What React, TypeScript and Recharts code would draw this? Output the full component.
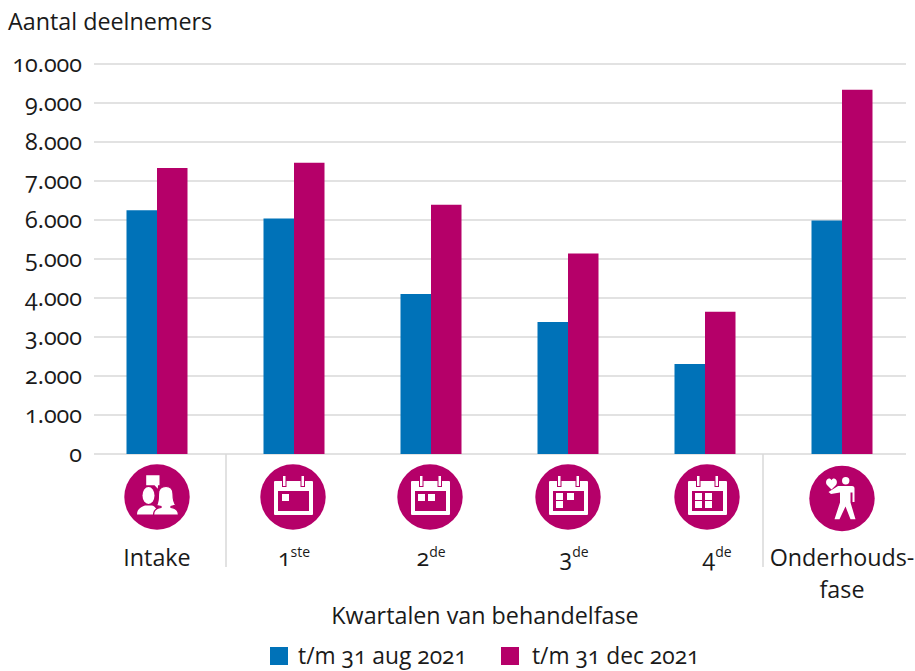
import { BarChart, Bar, XAxis, YAxis, CartesianGrid, Legend } from 'recharts';

const FONT = '"Open Sans", sans-serif';
const BLUE = '#0072b8';
const MAGENTA = '#b50069';
const TEXT = '#1a1a1a';
const FONT_SIZE = 23.3;

const categories = ['Intake', '1', '2', '3', '4', 'Onderhouds-'];
const superscripts = ['', 'ste', 'de', 'de', 'de', ''];
const aug2021 = [6250, 6040, 4100, 3385, 2310, 5990];
const dec2021 = [7335, 7470, 6390, 5140, 3650, 9340];
const yTicks = [0, 1000, 2000, 3000, 4000, 5000, 6000, 7000, 8000, 9000, 10000];
const seriesNames = ['t/m 31 aug 2021', 't/m 31 dec 2021'];

// the icons and labels are not quite centred under the bars in the original
const iconShift = [0, -1, -1, 0, 2, 0];
const labelShift = [0, 0, 0, 6, 12, 0];
const dividerShift = [69, 0, 0, 0, 58, 0];

const data = categories.map((category, i) => ({
  category,
  aug: aug2021[i],
  dec: dec2021[i],
}));

const Calendar = ({ cells }: { cells: number[][] }) => (
  <g>
    <rect x={-19} y={-16} width={39} height={34} fill="#fff" rx={1} />
    <rect x={-15} y={-6} width={31} height={20} fill={MAGENTA} />
    <rect x={-10.5} y={-21.5} width={3.5} height={11} fill="#fff" stroke={MAGENTA} strokeWidth={1} />
    <rect x={8} y={-21.5} width={3.5} height={11} fill="#fff" stroke={MAGENTA} strokeWidth={1} />
    {cells.map(([x, y], i) => (
      <rect key={i} x={x} y={y} width={7} height={7} fill="#fff" />
    ))}
  </g>
);

const People = () => (
  <g fill="#fff">
    <path d="M-10.8 -21.7H2.5V-11.7H1L0.8 -8.3L-2.5 -11.7H-10.8Z" />
    <ellipse cx={-8.5} cy={-1.5} rx={6} ry={8.5} />
    <path d="M-20 17.5C-20 12 -16 10 -12 8.5H-5C-2 9.5 0 11 0 17.5Z" />
    <path
      d="M9 -10.5C14 -10.5 16 -7 16 -3C16 2 17 6 19 8L14 9.5V10.5C18 11 21.5 13 21.5 18H-3.5C-3.5 13 0 11 4 10.5V9.5L-0.5 8.5C1.5 5 1.5 1 1.5 -3C1.5 -7 4 -10.5 9 -10.5Z"
      stroke={MAGENTA}
      strokeWidth={1.2}
    />
  </g>
);

const Walker = () => (
  <g fill="#fff">
    <circle cx={3.7} cy={-17.7} r={3.7} />
    <path d="M-4 -12.5H10Q12.5 -12.5 12.5 -10V3.5H10.5V-6H8.5V4L13.5 20.7H8.5L3.5 8L-2.5 20.7H-7.5L-2 4V-6L-11 -4.5L-13.5 -6.5Z" />
    <path d="M-10.5 -9L-15 -13.5C-17 -16 -15.5 -20 -13 -20C-11.8 -20 -11 -19.3 -10.5 -18.3C-10 -19.3 -9.2 -20 -8 -20C-5.5 -20 -4 -16 -6 -13.5Z" />
  </g>
);

const icons = [
  <People />,
  <Calendar cells={[[-11, -3]]} />,
  <Calendar cells={[[-12, -3], [-2, -3]]} />,
  <Calendar cells={[[-12, -4], [-1, -4], [-12, 4]]} />,
  <Calendar cells={[[-12, -4], [-2, -4], [-12, 4], [-2, 4]]} />,
  <Walker />,
];

const CategoryTick = ({ x, y, payload, index }: any) => {
  const top = y - 8;
  const sup = superscripts[index];
  const isLast = index === categories.length - 1;
  return (
    <g>
      {dividerShift[index] > 0 && (
        <line
          x1={x + dividerShift[index]}
          x2={x + dividerShift[index]}
          y1={top}
          y2={top + 113}
          stroke="#d9d9d9"
          strokeWidth={1.5}
        />
      )}
      <g transform={`translate(${x + iconShift[index]} ${top + (isLast ? 44.5 : 43)})`}>
        <circle r={32.7} fill={MAGENTA} />
        {icons[index]}
      </g>
      <text
        x={x + labelShift[index]}
        y={top + 112}
        textAnchor="middle"
        fill={TEXT}
        fontSize={FONT_SIZE}
        fontFamily={FONT}
        style={{ fontFeatureSettings: '"onum"' }}
      >
        {payload.value}
        {sup && (
          <tspan fontSize={14} dy={-9}>
            {sup}
          </tspan>
        )}
      </text>
      {isLast && (
        <text x={x} y={top + 144} textAnchor="middle" fill={TEXT} fontSize={FONT_SIZE} fontFamily={FONT}>
          fase
        </text>
      )}
    </g>
  );
};

const LegendContent = () => (
  <div
    style={{
      display: 'flex',
      justifyContent: 'flex-start',
      paddingLeft: 270,
      fontFamily: FONT,
      fontSize: 22.8,
      color: TEXT,
      lineHeight: '30px',
      fontFeatureSettings: '"onum"',
    }}
  >
    {seriesNames.map((name, i) => (
      <div key={name} style={{ display: 'flex', alignItems: 'center', marginRight: 34 }}>
        <span
          style={{
            width: 18,
            height: 18,
            marginRight: i === 0 ? 10 : 13,
            background: i === 0 ? BLUE : MAGENTA,
          }}
        />
        {name}
      </div>
    ))}
  </div>
);

export default function App() {
  return (
    <div style={{ position: 'absolute', left: 0, top: 0, width: 915, height: 671, background: '#fff' }}>
      <div
        style={{
          position: 'absolute',
          left: 8,
          top: 5,
          fontFamily: FONT,
          fontSize: FONT_SIZE,
          color: TEXT,
          lineHeight: '32px',
        }}
      >
        Aantal deelnemers
      </div>
      <BarChart
        width={915}
        height={671}
        data={data}
        barSize={30.5}
        barGap={0}
        margin={{ top: 64, right: 9, bottom: 0, left: 0 }}
      >
        <CartesianGrid vertical={false} stroke="#d9d9d9" strokeWidth={1.3} />
        <XAxis
          dataKey="category"
          interval={0}
          height={187}
          padding={{ left: -5.5, right: -4.5 }}
          axisLine={false}
          tickLine={false}
          tick={<CategoryTick />}
          label={{
            value: 'Kwartalen van behandelfase',
            position: 'insideBottom',
            offset: 17,
            dx: -15,
            fill: TEXT,
            fontSize: FONT_SIZE,
            fontFamily: FONT,
          }}
        />
        <YAxis
          width={94}
          domain={[0, 10000]}
          ticks={yTicks}
          axisLine={false}
          tickLine={false}
          tickMargin={6}
          tickFormatter={(v: number) => String(v).replace(/(\d)(\d{3})$/, '$1.$2')}
          tick={{
            fill: TEXT,
            fontSize: FONT_SIZE,
            fontFamily: FONT,
            style: { fontFeatureSettings: '"onum"' },
          }}
        />
        <Legend verticalAlign="bottom" height={30} content={<LegendContent />} />
        <Bar dataKey="aug" name={seriesNames[0]} fill={BLUE} isAnimationActive={false} />
        <Bar dataKey="dec" name={seriesNames[1]} fill={MAGENTA} isAnimationActive={false} />
      </BarChart>
    </div>
  );
}
